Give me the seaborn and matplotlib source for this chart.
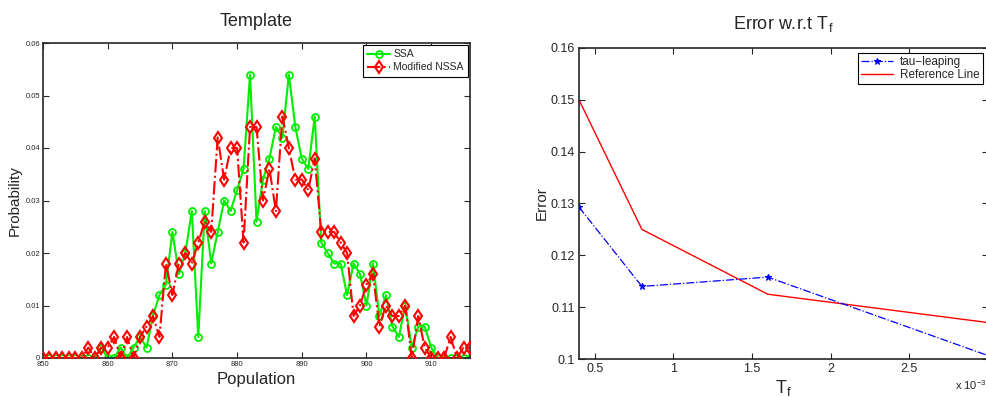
import matplotlib
matplotlib.use("Agg")
import matplotlib.pyplot as plt
import seaborn as sns
import numpy as np
import pandas as pd

# ---------------- data ----------------
population = list(range(850, 917))
ssa = [0, 0, 0, 0, 0, 0, 0, 0, 0, 0.002,
       0, 0, 0.002, 0, 0.002, 0.004, 0.002, 0.008, 0.012, 0.014,
       0.024, 0.016, 0.020, 0.028, 0.004, 0.028, 0.018, 0.024, 0.030, 0.028,
       0.032, 0.036, 0.054, 0.026, 0.034, 0.038, 0.044, 0.042, 0.054, 0.044,
       0.038, 0.036, 0.046, 0.022, 0.020, 0.018, 0.018, 0.012, 0.018, 0.016,
       0.010, 0.018, 0.008, 0.012, 0.006, 0.004, 0.010, 0.002, 0.006, 0.006,
       0.002, 0, 0, 0, 0, 0, 0]
nssa = [0, 0, 0, 0, 0, 0, 0, 0.002, 0, 0.002,
        0.002, 0.004, 0, 0.004, 0, 0.004, 0.006, 0.008, 0.004, 0.018,
        0.012, 0.018, 0.020, 0.018, 0.022, 0.026, 0.024, 0.042, 0.034, 0.040,
        0.040, 0.022, 0.044, 0.044, 0.030, 0.036, 0.028, 0.046, 0.040, 0.034,
        0.034, 0.032, 0.038, 0.024, 0.024, 0.024, 0.022, 0.020, 0.008, 0.010,
        0.014, 0.016, 0.006, 0.010, 0.008, 0.008, 0.010, 0, 0.008, 0.002,
        0, 0, 0, 0.004, 0, 0.002, 0.002]

tf = [0.4, 0.8, 1.6, 3.2]            # x 10^-3
tau_err = [0.1293, 0.1140, 0.1158, 0.0985]
ref_err = [0.1500, 0.1250, 0.1125, 0.10625]

left_xticks = [850, 860, 870, 880, 890, 900, 910]
left_yticks = [0, 0.01, 0.02, 0.03, 0.04, 0.05, 0.06]
right_xticks = [0.5, 1, 1.5, 2, 2.5]
right_yticks = [0.1, 0.11, 0.12, 0.13, 0.14, 0.15, 0.16]

# ---------------- style ----------------
sns.set_style("ticks")
plt.rcParams["font.family"] = ["Liberation Sans", "DejaVu Sans"]
plt.rcParams["mathtext.fontset"] = "custom"
plt.rcParams["mathtext.rm"] = "Liberation Sans"
plt.rcParams["mathtext.it"] = "Liberation Sans"

fig = plt.figure(figsize=(9.86, 3.97), dpi=100)
ax1 = fig.add_axes([43 / 986, 1 - 358 / 397, 427 / 986, 315 / 397])
ax2 = fig.add_axes([579 / 986, 1 - 359 / 397, 409 / 986, 311 / 397])

df_left = pd.DataFrame({"Population": population, "SSA": ssa, "NSSA": nssa})
df_right = pd.DataFrame({"Tf": tf, "tau": tau_err, "ref": ref_err})

# ---------------- left panel ----------------
sns.lineplot(data=df_left, x="Population", y="SSA", ax=ax1, color="#00ee00",
             linewidth=1.5, marker="o", markersize=5, markerfacecolor="none",
             markeredgecolor="#00ee00", markeredgewidth=1.3, label="SSA",
             zorder=2)
sns.lineplot(data=df_left, x="Population", y="NSSA", ax=ax1, color="#ff0000",
             linewidth=1.5, linestyle="-.", marker="d", markersize=6,
             markerfacecolor="none", markeredgecolor="#ff0000",
             markeredgewidth=1.5, label="Modified NSSA", zorder=3)
ax1.set_xlim(850, 916)
ax1.set_ylim(0, 0.06)
ax1.set_xticks(left_xticks)
ax1.set_yticks(left_yticks)
ax1.set_yticklabels(["0", "0.01", "0.02", "0.03", "0.04", "0.05", "0.06"])
ax1.tick_params(direction="in", top=True, right=True, labelsize=5.5,
                length=4, width=0.8, pad=2)
ax1.set_title("Template", fontsize=13, pad=12)
ax1.set_xlabel("Population", fontsize=12, labelpad=3)
ax1.set_ylabel("Probability", fontsize=11, labelpad=3)
leg1 = ax1.legend(loc="upper right", fontsize=7.5, fancybox=False,
                  edgecolor="black", framealpha=1, borderaxespad=0.2,
                  handlelength=2.2, handletextpad=0.3, borderpad=0.4,
                  labelspacing=0.3)
leg1.get_frame().set_linewidth(0.8)

# ---------------- right panel ----------------
sns.lineplot(data=df_right, x="Tf", y="tau", ax=ax2, color="#0000ff",
             linewidth=0.9, linestyle="-.", marker="*", markersize=5,
             markeredgecolor="#0000ff", markerfacecolor="#0000ff",
             markeredgewidth=0.8, label="tau\u2212leaping", zorder=3)
sns.lineplot(data=df_right, x="Tf", y="ref", ax=ax2, color="#ff0000",
             linewidth=1.0, label="Reference Line", zorder=2)
ax2.set_xlim(0.4, 3.0)
ax2.set_ylim(0.1, 0.16)
ax2.set_xticks(right_xticks)
ax2.set_xticklabels(["0.5", "1", "1.5", "2", "2.5"])
ax2.set_yticks(right_yticks)
ax2.set_yticklabels(["0.1", "0.11", "0.12", "0.13", "0.14", "0.15", "0.16"])
ax2.tick_params(direction="in", top=True, right=True, labelsize=9,
                length=4, width=0.8, pad=3)
ax2.set_title("Error w.r.t T$_\\mathrm{f}$", fontsize=13, pad=14)
ax2.set_xlabel("T$_\\mathrm{f}$", fontsize=13, labelpad=2)
ax2.set_ylabel("Error", fontsize=11, labelpad=1)
leg2 = ax2.legend(loc="upper right", fontsize=8.5, fancybox=False,
                  edgecolor="black", framealpha=1, borderaxespad=0.45,
                  handlelength=2.7, handletextpad=0.6, borderpad=0.25,
                  labelspacing=0.1)
leg2.get_frame().set_linewidth(0.8)
fig.text(955 / 986, 1 - 390 / 397, "x 10$^{-3}$", fontsize=8)

for ax in (ax1, ax2):
    for s in ax.spines.values():
        s.set_linewidth(1.2)
        s.set_visible(True)

fig.savefig("out.png", dpi=100)
